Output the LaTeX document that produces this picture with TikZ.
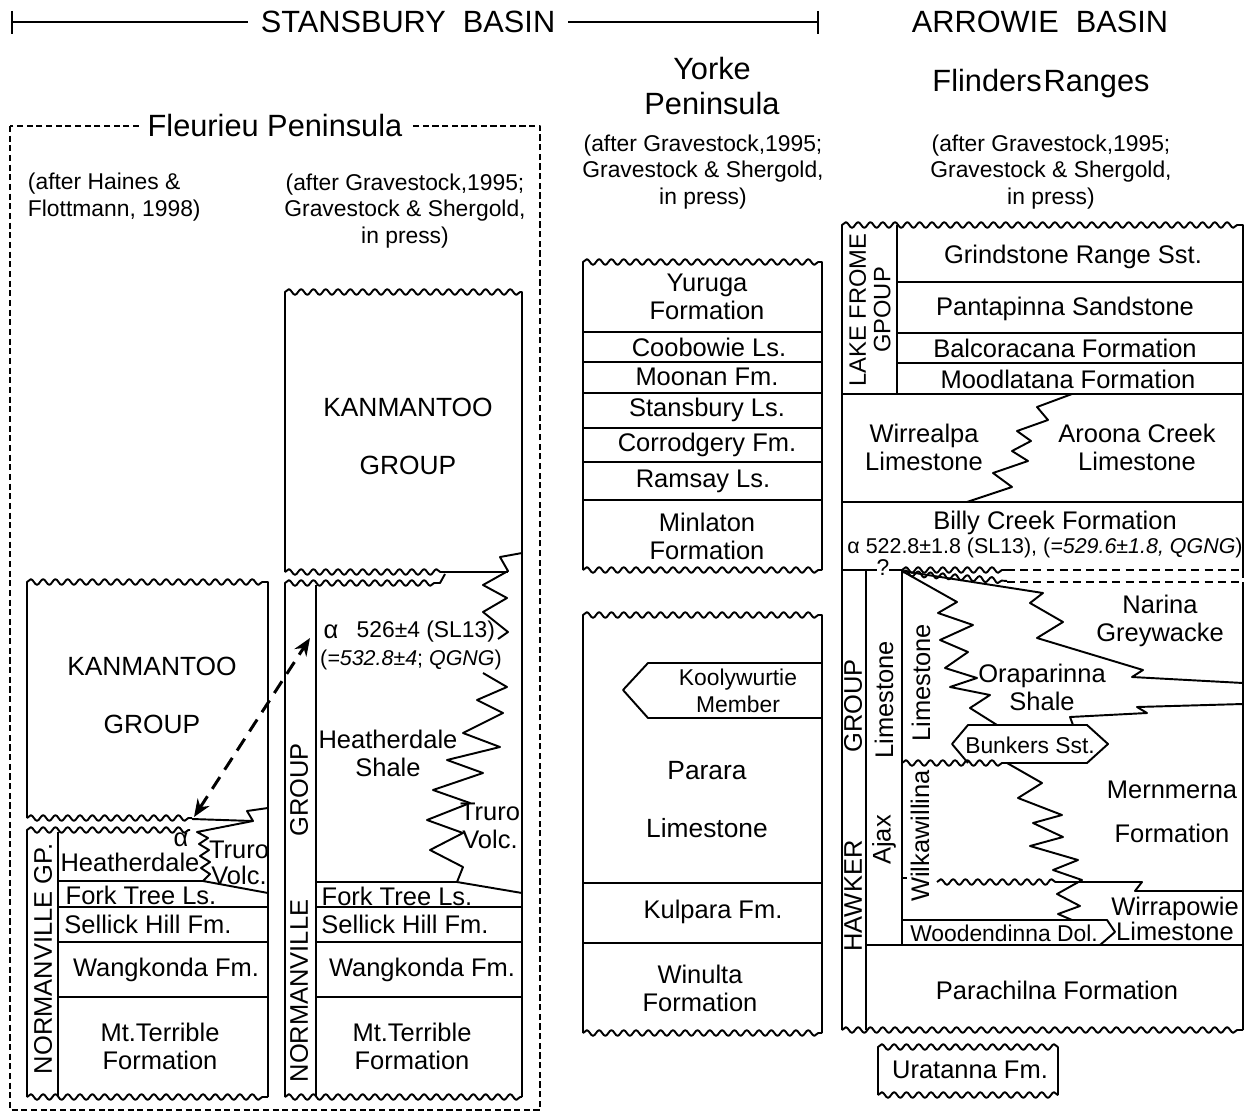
\documentclass[tikz,border=0pt]{standalone}
\usepackage{fontspec}
\setmainfont{Liberation Sans}
\usetikzlibrary{arrows.meta,decorations.pathmorphing}

\tikzset{
  lbl/.style={font=\fontsize{14.5}{16}\selectfont,align=center,inner sep=1pt},
  sml/.style={font=\fontsize{13}{15}\selectfont,align=center,inner sep=1pt},
  age/.style={font=\fontsize{12.2}{14}\selectfont,align=center,inner sep=0pt},
  ref/.style={font=\fontsize{13}{15.3}\selectfont,align=center,inner sep=0pt},
  head/.style={font=\fontsize{17.5}{20}\selectfont,align=center,inner sep=2pt},
  tall/.style={font=\fontsize{15}{33}\selectfont},
  grp/.style={lbl,rotate=90},
  wave/.style={decoration={snake,amplitude=1.6pt,segment length=7pt}},
  wavy/.style={wave,decorate},
  fdash/.style={line width=0.6pt,dash pattern=on 3.5pt off 2pt},
  gap/.style={dash pattern=on 4.5pt off 3pt},
  darr/.style={line width=1.7pt,dash pattern=on 8pt off 5pt,
    {Stealth[length=10pt,width=8pt]}-{Stealth[length=10pt,width=8pt]}}
}

\begin{document}
\begin{tikzpicture}[x=0.02cm,y=-0.02cm,line width=1.1pt,line join=round]
\useasboundingbox (0,0) rectangle (1247,1115);

% headings
\node[head,inner xsep=7pt] (stansbury) at (408,22) {STANSBURY\ \ BASIN};
\draw[line width=1.4pt] (12,22) -- (stansbury.west) (stansbury.east) -- (818,22);
\draw[line width=1.4pt] (12,11) -- (12,34) (818,11) -- (818,34);
\node[head] (arrowie) at (1040,22) {ARROWIE\ \ BASIN};
\node[head] (yorke) at (712,86) {Yorke\\Peninsula};
\node[head] (flinders) at (1041,84) {Flinders\hspace{1pt}Ranges};

% Fleurieu Peninsula frame
\draw[fdash] (10,126) rectangle (540,1110);
\node[head,fill=white,inner xsep=5pt] (fleurieu) at (275,126) {Fleurieu Peninsula};
\node[ref,align=left,anchor=west] (haines) at (27,197) {(after Haines \&\\Flottmann, 1998)};
\node[ref] (gravF) at (405,211) {(after Gravestock,1995;\\Gravestock \& Shergold,\\in press)};
\node[ref] (gravY) at (703,172) {(after Gravestock,1995;\\Gravestock \& Shergold,\\in press)};
\node[ref] (gravA) at (1051,172) {(after Gravestock,1995;\\Gravestock \& Shergold,\\in press)};

% column 1: Haines & Flottmann
\draw (27,818) -- (27,582) decorate[wave]{-- (268,582)} -- (268,808) -- (247,811) -- (253,821) -- (192,819);
\draw[wavy] (27,818) -- (192,818);
\node[lbl,tall] (kanA) at (152,695) {KANMANTOO\\GROUP};
\draw (27,1097) -- (27,830) decorate[wave]{-- (190,830)};
\draw (268,808) -- (268,1097);
\draw[wavy] (27,1097) -- (268,1097);
\draw (58,832) -- (58,1097);
\draw (253,821) -- (197,832) -- (208,838) -- (199,844) -- (209,850) -- (200,856) -- (210,862)
  -- (201,868) -- (210,874) -- (203,881) -- (268,893);
\draw (58,881) -- (203,881);
\foreach \y in {907,942,997} \draw (58,\y) -- (268,\y);
\node[grp] (normA) at (43,959) {NORMANVILLE GP.};
\node[lbl] (alphaA) at (181,840) {α};
\node[lbl] (heathA) at (130,862) {Heatherdale};
\node[lbl] (truroA) at (239,863) {Truro\\[-1pt]Volc.};
\node[lbl] (forkA) at (141,895) {Fork Tree Ls.};
\node[lbl] (sellickA) at (148,924) {Sellick Hill Fm.};
\node[lbl] (wangA) at (166,970) {Wangkonda Fm.};
\node[lbl] (terribleA) at (160,1046) {Mt.Terrible\\Formation};

% column 2: Gravestock, Fleurieu
\draw (285,572) -- (285,292) decorate[wave]{-- (522,292)} -- (522,553);
\draw[wavy] (285,572) -- (443,572);
\draw (443,572) -- (508,572);
\node[lbl,tall] (kanB) at (408,436) {KANMANTOO\\GROUP};
\draw (285,1097) -- (285,583) decorate[wave]{-- (440,583)} -- (445,574);
\draw (316,585) -- (316,1097);
\draw (522,553) -- (522,1097);
\draw[wavy] (285,1097) -- (522,1097);
\draw (522,553) -- (500,557) -- (508,571) -- (483,585) -- (507,598) -- (483,612) -- (508,632) -- (498,639);
\draw (483,673) -- (507,687) -- (477,700) -- (503,713) -- (463,733) -- (500,747) -- (447,760) -- (483,773)
  -- (433,790) -- (470,803) -- (427,820) -- (463,833) -- (430,850) -- (463,867) -- (457,882) -- (522,893);
\draw (316,882) -- (457,882);
\foreach \y in {907,942,997} \draw (316,\y) -- (522,\y);
\node[grp] (normB) at (299,991) {NORMANVILLE};
\node[grp] (groupB) at (299,790) {GROUP};
\node[lbl] (alphaB) at (331,632) {α};
\node[sml,anchor=west] (ageB) at (354,632) {526±4 (SL13)};
\node[age] (qgngB) at (411,660) {(\textit{=532.8±4}; \textit{QGNG})};
\node[lbl] (heathB) at (388,753) {Heatherdale\\Shale};
\node[lbl] (truroB) at (490,826) {Truro\\Volc.};
\node[lbl] (forkB) at (397,896) {Fork Tree Ls.};
\node[lbl] (sellickB) at (405,924) {Sellick Hill Fm.};
\node[lbl] (wangB) at (422,970) {Wangkonda Fm.};
\node[lbl] (terribleB) at (412,1046) {Mt.Terrible\\Formation};

% correlation of the volcanics
\coordinate (arrA) at (194,817);
\coordinate (arrB) at (310,638);
\draw[darr] (arrA) -- (arrB);

% Yorke Peninsula
\draw (583,570) -- (583,262) decorate[wave]{-- (822,262)} -- (822,570);
\draw[wavy] (583,570) -- (822,570);
\foreach \y in {332,362,393,428,462,500} \draw (583,\y) -- (822,\y);
\node[lbl] (yuruga) at (707,297) {Yuruga\\Formation};
\node[lbl] (coobowie) at (709,347) {Coobowie Ls.};
\node[lbl] (moonan) at (707,377) {Moonan Fm.};
\node[lbl] (stansls) at (707,410) {Stansbury Ls.};
\node[lbl] (corrodgery) at (707,445) {Corrodgery Fm.};
\node[lbl] (ramsay) at (703,481) {Ramsay Ls.};
\node[lbl] (minlaton) at (707,536) {Minlaton\\Formation};

\draw (583,1033) -- (583,615) decorate[wave]{-- (822,615)} -- (822,1033);
\draw[wavy] (583,1033) -- (822,1033);
\draw (822,663) -- (648,663) -- (623,690) -- (648,718) -- (822,718);
\draw (583,883) -- (822,883);
\draw (583,943) -- (822,943);
\node[sml] (koolywurtie) at (738,691) {Koolywurtie\\Member};
\node[lbl,tall] (parara) at (707,800) {Parara\\Limestone};
\node[lbl] (kulpara) at (713,912) {Kulpara Fm.};
\node[lbl] (winulta) at (700,988) {Winulta\\Formation};

% Flinders Ranges
\draw (842,1030) -- (842,225) decorate[wave]{-- (1243,225)} -- (1243,570);
\draw[gap] (1243,570) -- (1243,582);
\draw (1243,582) -- (1243,1030);
\draw[wavy] (842,1030) -- (1243,1030);
\draw (897,225) -- (897,394);
\foreach \y in {282,333,363} \draw (897,\y) -- (1243,\y);
\draw (842,394) -- (1243,394);
\draw (842,502) -- (1243,502);
\node[grp,font=\fontsize{13.5}{14}\selectfont] (lakefrome) at (870,310) {LAKE FROME\\GPOUP};
\node[lbl] (grindstone) at (1073,257) {Grindstone Range Sst.};
\node[lbl] (pantapinna) at (1065,309) {Pantapinna Sandstone};
\node[lbl] (balcoracana) at (1065,348) {Balcoracana Formation};
\node[lbl] (moodlatana) at (1068,379) {Moodlatana Formation};
\draw (1072,394) -- (1037,407) -- (1048,420) -- (1017,431) -- (1031,441) -- (1012,451) -- (1028,461)
  -- (993,473) -- (1012,487) -- (967,502);
\node[lbl] (wirrealpa) at (924,447) {Wirrealpa\\Limestone};
\node[lbl] (aroona) at (1137,447) {Aroona Creek\\Limestone};
\node[lbl] (billy) at (1055,523) {Billy Creek Formation};
\node[age] (ageC) at (1045,548) {α 522.8±1.8 (SL13), (\textit{=529.6±1.8, QGNG})};

\node[sml,inner sep=0pt] (query) at (883,568) {?};
\draw (842,570) -- (877,570) (889,570) -- (902,570);
\draw[wavy] (902,570) -- (1007,570);
\draw[gap] (1007,570) -- (1243,570);
\draw[wavy] (902,573) -- (1007,581);
\draw[gap] (1007,582) -- (1243,582);

\draw (866,570) -- (866,1030);
\draw (902,570) -- (902,945);
\node[grp] (hawker) at (853,896) {HAWKER};
\node[grp] (hawkgrp) at (853,706) {GROUP};
\node[grp] (ajax) at (884,840) {Ajax};
\node[grp] (ajaxls) at (884,700) {Limestone};
\node[grp] (wilka) at (920,836) {Wilkawillina};
\node[grp] (wilkals) at (921,683) {Limestone};

\draw (902,571) -- (957,602) -- (938,613) -- (973,625) -- (940,640) -- (968,652) -- (945,668) -- (977,678)
  -- (950,687) -- (990,695) -- (970,708) -- (997,725);
\draw (902,571) -- (1043,593) -- (1030,603) -- (1063,622) -- (1037,638) -- (1143,670) -- (1132,677) -- (1243,683);
\draw (1243,704) -- (1137,707) -- (1147,713) -- (1070,717) -- (1073,725);
\node[lbl] (narina) at (1160,621) {Narina\\Greywacke};
\node[lbl] (oraparinna) at (1042,687) {Oraparinna\\Shale};

\draw (1007,763) -- (1087,763) -- (1108,744) -- (1087,725) -- (968,725) -- (952,744) -- (968,763);
\draw[wavy] (902,763) -- (1007,763);
\node[sml] (bunkers) at (1030,745) {Bunkers Sst.};

\draw (1007,763) -- (1042,783) -- (1018,798) -- (1062,815) -- (1033,823) -- (1063,837) -- (1030,846)
  -- (1078,860) -- (1053,870) -- (1082,880) -- (1057,894) -- (1080,906) -- (1058,914) -- (1072,920);
\draw (902,878) -- (907,878);
\draw[wavy] (937,882) -- (1060,882);
\draw (1060,882) -- (1142,882) -- (1135,891) -- (1243,891);
\node[lbl] (mernmerna) at (1172,812) {Mernmerna\\[9pt]Formation};
\node[lbl] (wirrapowie) at (1175,919) {Wirrapowie\\[-2pt]Limestone};

\draw (902,920) -- (1107,920) -- (1115,932) -- (1100,945);
\node[sml] (woodendinna) at (1004,933) {Woodendinna Dol.};
\draw (866,945) -- (1243,945);
\node[lbl] (parachilna) at (1057,990) {Parachilna Formation};

\draw (878,1095) -- (878,1047) decorate[wave]{-- (1058,1047)} -- (1058,1095);
\draw[wavy] (878,1095) -- (1058,1095);
\node[lbl] (uratanna) at (970,1070) {Uratanna Fm.};
\end{tikzpicture}
\end{document}
